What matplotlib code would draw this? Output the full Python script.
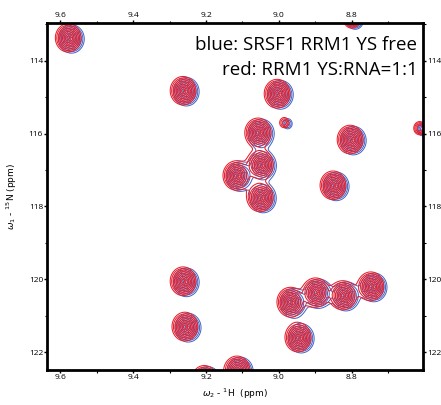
import numpy as np
import matplotlib
matplotlib.use('Agg')
import matplotlib.pyplot as plt
from matplotlib.ticker import MultipleLocator

# peak list: 1H (ppm), 15N (ppm), relative height
h_ppm = [9.578, 9.263, 9.005, 9.058, 8.985, 9.118, 9.052, 9.052, 8.805, 8.852,
         9.263, 9.258, 8.970, 8.900, 8.825, 8.748, 8.948, 9.115, 9.205, 8.614, 8.800]
n_ppm = [113.37, 114.82, 114.90, 115.97, 115.70, 117.15, 116.85, 117.75, 116.16, 117.42,
         120.05, 121.30, 120.62, 120.36, 120.44, 120.19, 121.60, 122.50, 122.75, 115.85, 112.85]
height = [1.0, 1.0, 1.0, 1.0, 0.05, 1.0, 1.0, 1.0, 1.0, 1.0,
          1.0, 1.0, 1.0, 1.0, 1.0, 1.0, 1.0, 1.0, 0.9, 0.1, 0.25]
# free form (blue) sits a little upfield in 1H and downfield in 15N
blue_dh = -0.009
blue_dn = 0.03

gam_h = 0.0135
gam_n = 0.15

xlim = (9.636, 8.605)
ylim = (122.49, 112.96)

x = np.linspace(8.55, 9.70, 800)
y = np.linspace(112.5, 123.0, 800)
X, Y = np.meshgrid(x, y)

def spectrum(dh, dn):
    Z = np.zeros_like(X)
    for h, n, a in zip(h_ppm, n_ppm, height):
        r2 = ((X - h - dh) / gam_h) ** 2 + ((Y - n - dn) / gam_n) ** 2
        Z += a / (1 + r2) ** 2
    return Z

# contour levels chosen so rings come out evenly spaced
ring_r = np.linspace(0.3, 2.6, 9)[::-1]
levels = 1 / (1 + ring_r ** 2) ** 2

fig = plt.figure(figsize=(4.41, 4.05), dpi=100)
ax = fig.add_axes([0.1066, 0.0864, 0.8526, 0.857])

ax.contour(X, Y, spectrum(blue_dh, blue_dn), levels=levels, colors='#4262c2', linewidths=0.7)
ax.contour(X, Y, spectrum(0, 0), levels=levels, colors='#e81f2c', linewidths=0.75)

ax.set_xlim(xlim)
ax.set_ylim(ylim)

ax.xaxis.set_major_locator(MultipleLocator(0.2))
ax.xaxis.set_minor_locator(MultipleLocator(0.1))
ax.yaxis.set_major_locator(MultipleLocator(2))
ax.yaxis.set_minor_locator(MultipleLocator(1))
ax.tick_params(which='both', direction='out', top=True, right=True,
               labeltop=True, labelright=True, labelsize=6, pad=0.8)
ax.tick_params(which='major', length=2, width=1)
ax.tick_params(which='minor', length=1.8, width=0.8)
ax.set_xticks([9.6, 9.4, 9.2, 9.0, 8.8])
ax.set_xticklabels(['9.6', '9.4', '9.2', '9.0', '8.8'])
for lab in ax.get_xticklabels() + ax.get_yticklabels():
    lab.set_family('Open Sans')
for s in ax.spines.values():
    s.set_linewidth(2)

ax.set_xlabel(r'$\omega_2$ - $^{1}$H  (ppm)', fontsize=6.5, labelpad=4)
ax.set_ylabel(r'$\omega_1$ - $^{15}$N (ppm)', fontsize=6.5, labelpad=7)

ax.text(0.985, 0.937, 'blue: SRSF1 RRM1 YS free', transform=ax.transAxes,
        ha='right', va='center', fontsize=13.5, family='Open Sans')
ax.text(0.985, 0.865, 'red: RRM1 YS:RNA=1:1', transform=ax.transAxes,
        ha='right', va='center', fontsize=13.5, family='Open Sans')

fig.savefig('out.png', dpi=100)
